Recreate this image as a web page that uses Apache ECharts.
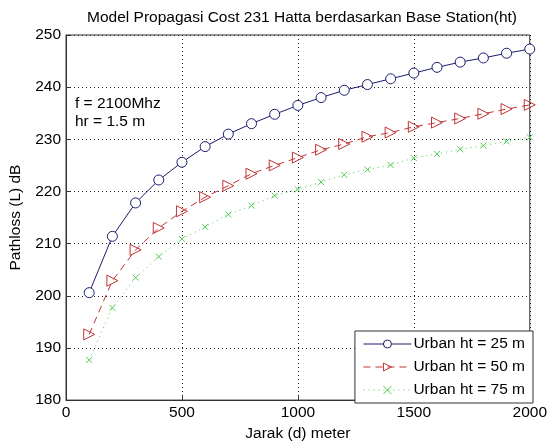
<!DOCTYPE html>
<html>
<head>
<meta charset="utf-8">
<script src="https://cdn.jsdelivr.net/npm/echarts@6/dist/echarts.min.js"></script>
<style>
  html, body { margin: 0; padding: 0; background: #fff; }
  #chart { width: 550px; height: 447px; }
</style>
</head>
<body>
<div id="chart"></div>
<script>
const distances = [100, 200, 300, 400, 500, 600, 700, 800, 900, 1000,
  1100, 1200, 1300, 1400, 1500, 1600, 1700, 1800, 1900, 2000];

const urban25 = [200.6, 211.4, 217.8, 222.2, 225.6, 228.6, 231.0, 233.0, 234.8, 236.5,
  238.0, 239.4, 240.5, 241.6, 242.7, 243.8, 244.8, 245.6, 246.5, 247.3];
const urban50 = [192.6, 202.9, 208.8, 213.0, 216.2, 218.9, 221.1, 223.4, 225.0, 226.5,
  228.0, 229.1, 230.5, 231.3, 232.4, 233.2, 234.0, 234.9, 235.8, 236.6];
const urban75 = [187.7, 197.7, 203.5, 207.5, 210.9, 213.2, 215.6, 217.3, 219.2, 220.4,
  221.8, 223.2, 224.2, 225.1, 226.4, 227.2, 228.1, 228.8, 229.6, 230.4];

const seriesNames = ["Urban ht = 25 m", "Urban ht = 50 m", "Urban ht = 75 m"];

// matlab-ish narrow, tall text
const font = "'Liberation Sans Narrow', 'Arial Narrow', 'Liberation Sans', sans-serif";
const fontSize = 15.5;
const crossPath = "path://M0,0L10,10M10,0L0,10";

function pairs(values) {
  return values.map((v, i) => [distances[i], v]);
}

const chart = echarts.init(document.getElementById("chart"), null, { renderer: "canvas" });

const gridLine = { show: true, lineStyle: { color: "#222", type: [1, 3], width: 1 } };

chart.setOption({
  animation: false,
  backgroundColor: "#fff",
  textStyle: { fontFamily: font },
  title: {
    text: "Model Propagasi Cost 231 Hatta berdasarkan Base Station(ht)",
    left: 297,
    textAlign: "center",
    top: 5,
    textStyle: { fontFamily: font, fontSize: fontSize, fontWeight: "normal", color: "#000" }
  },
  grid: {
    left: 66, right: 17, top: 35, bottom: 44,
    show: true, borderColor: "#333", borderWidth: 1, backgroundColor: "#fff"
  },
  legend: {
    orient: "vertical",
    right: 17,
    bottom: 44,
    backgroundColor: "#fff",
    borderColor: "#333",
    borderWidth: 1,
    borderRadius: 0,
    padding: [5, 8, 5, 8],
    itemGap: 7,
    itemWidth: 48,
    itemHeight: 10,
    lineStyle: { width: 1 },
    itemStyle: { borderWidth: 1 },
    textStyle: { fontFamily: font, fontSize: fontSize, color: "#000", padding: [0, 0, 0, -3] },
    data: seriesNames
  },
  graphic: [
    {
      type: "text",
      left: 75,
      top: 95,
      style: {
        text: "f = 2100Mhz\nhr = 1.5 m",
        font: fontSize + "px " + font,
        fill: "#000",
        lineHeight: 18
      }
    }
  ],
  xAxis: {
    type: "value",
    min: 0,
    max: 2000,
    interval: 500,
    name: "Jarak (d) meter",
    nameLocation: "middle",
    nameGap: 25,
    nameTextStyle: { fontFamily: font, fontSize: fontSize, color: "#000" },
    axisLine: { show: true, lineStyle: { color: "#333" } },
    axisTick: { show: true, inside: true, length: 4, lineStyle: { color: "#333" } },
    axisLabel: {
      fontFamily: font, fontSize: fontSize, color: "#000", margin: 5,
      formatter: (value) => String(value)
    },
    splitLine: gridLine
  },
  yAxis: {
    type: "value",
    min: 180,
    max: 250,
    interval: 10,
    name: "Pathloss (L) dB",
    nameLocation: "middle",
    nameGap: 42,
    nameTextStyle: { fontFamily: font, fontSize: fontSize, color: "#000" },
    axisLine: { show: true, lineStyle: { color: "#333" } },
    axisTick: { show: true, inside: true, length: 4, lineStyle: { color: "#333" } },
    axisLabel: { fontFamily: font, fontSize: fontSize, color: "#000", margin: 5 },
    splitLine: gridLine
  },
  series: [
    {
      name: seriesNames[0],
      type: "line",
      data: pairs(urban25),
      symbol: "circle",
      symbolSize: 10,
      showSymbol: true,
      lineStyle: { color: "#1c1c6e", width: 1 },
      itemStyle: { color: "#fff", borderColor: "#1c1c6e", borderWidth: 1 }
    },
    {
      name: seriesNames[1],
      type: "line",
      data: pairs(urban50),
      symbol: "triangle",
      symbolRotate: -90,
      symbolSize: 11,
      lineStyle: { color: "#c03535", width: 1, type: [7, 5] },
      itemStyle: { color: "rgba(255,255,255,0)", borderColor: "#c03535", borderWidth: 1 }
    },
    {
      name: seriesNames[2],
      type: "line",
      data: pairs(urban75),
      symbol: crossPath,
      symbolSize: 6,
      lineStyle: { color: "#55cc55", width: 1, type: [1, 4] },
      itemStyle: { color: "rgba(255,255,255,0)", borderColor: "#55cc55", borderWidth: 1 }
    }
  ]
});
</script>
</body>
</html>
